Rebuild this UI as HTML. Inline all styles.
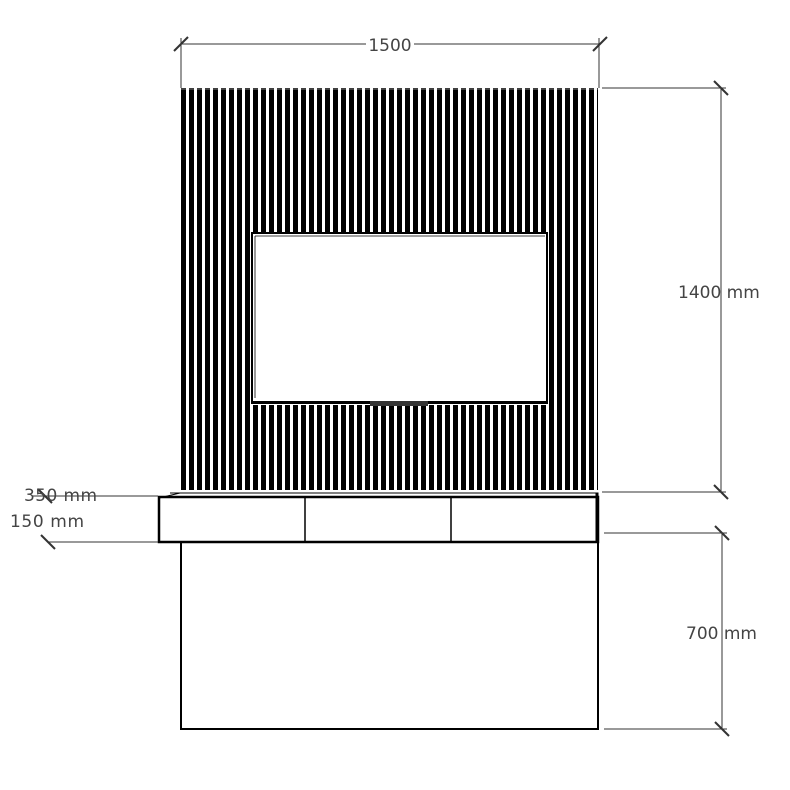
<!DOCTYPE html>
<html><head><style>body{margin:0;background:#fff}svg{display:block}</style></head><body>
<svg width="790" height="790" viewBox="0 0 790 790" xmlns="http://www.w3.org/2000/svg" font-family="DejaVu Sans, sans-serif">
<defs>
<pattern id="sl" x="181" y="0" width="8" height="800" patternUnits="userSpaceOnUse">
<rect x="0" y="0" width="5" height="800" fill="#000"/>
</pattern>
</defs>
<rect x="181" y="90" width="417" height="402" fill="url(#sl)"/>
<line x1="181" y1="89" x2="598" y2="89" stroke="#000" stroke-width="1.5" stroke-dasharray="5 3"/>
<!-- window -->
<rect x="251" y="232" width="298" height="173" fill="#fff"/>
<rect x="252" y="233" width="295" height="170" fill="none" stroke="#000" stroke-width="2"/>
<line x1="255" y1="236" x2="255" y2="398" stroke="#000" stroke-width="0.8"/>
<line x1="255" y1="236" x2="545" y2="236" stroke="#000" stroke-width="0.8"/>
<line x1="252" y1="402" x2="547" y2="402" stroke="#000" stroke-width="2"/>
<rect x="370" y="401" width="58" height="5" fill="#333"/>
<!-- shelf -->
<rect x="181" y="490" width="417" height="6" fill="#fff"/>
<line x1="170" y1="493" x2="598" y2="493" stroke="#000" stroke-width="1"/>
<path d="M159 498 L180 493 L598 493 L598 542 L159 542 Z" fill="#fff" stroke="#000" stroke-width="1"/>
<rect x="159" y="497" width="439" height="45" fill="none" stroke="#000" stroke-width="2.5"/>
<line x1="597" y1="493" x2="597" y2="542" stroke="#000" stroke-width="3"/>
<line x1="305" y1="497" x2="305" y2="542" stroke="#000" stroke-width="1.5"/>
<line x1="451" y1="497" x2="451" y2="542" stroke="#000" stroke-width="1.5"/>
<!-- base -->
<rect x="181" y="542" width="417" height="187" fill="none" stroke="#000" stroke-width="2"/>
<!-- dimensions -->
<g stroke="#333" stroke-width="1">
<line x1="181" y1="44" x2="601" y2="44"/>
<line x1="181" y1="38" x2="181" y2="88"/>
<line x1="599" y1="38" x2="599" y2="88"/>
<line x1="174" y1="51" x2="188" y2="37" stroke-width="2"/>
<line x1="593" y1="51" x2="607" y2="37" stroke-width="2"/>
<line x1="721" y1="88" x2="721" y2="492"/>
<line x1="602" y1="88" x2="726" y2="88"/>
<line x1="602" y1="492" x2="726" y2="492"/>
<line x1="714" y1="81" x2="728" y2="95" stroke-width="2"/>
<line x1="714" y1="485" x2="728" y2="499" stroke-width="2"/>
<line x1="722" y1="533" x2="722" y2="729"/>
<line x1="604" y1="533" x2="727" y2="533"/>
<line x1="604" y1="729" x2="727" y2="729"/>
<line x1="715" y1="526" x2="729" y2="540" stroke-width="2"/>
<line x1="715" y1="722" x2="729" y2="736" stroke-width="2"/>
<line x1="32" y1="496" x2="158" y2="496"/>
<line x1="48" y1="542" x2="158" y2="542"/>
<line x1="38" y1="489" x2="52" y2="503" stroke-width="2"/>
<line x1="41" y1="535" x2="55" y2="549" stroke-width="2"/>
</g>
<g fill="#444" font-size="17">
<rect x="366" y="34" width="48" height="20" fill="#fff"/>
<text x="390" y="51" text-anchor="middle">1500</text>
<text x="678" y="298">1400 mm</text>
<text x="686" y="639">700 mm</text>
<text x="24" y="501" textLength="73">350 mm</text>
<text x="10" y="527" textLength="74">150 mm</text>
</g>
</svg>
</body></html>
